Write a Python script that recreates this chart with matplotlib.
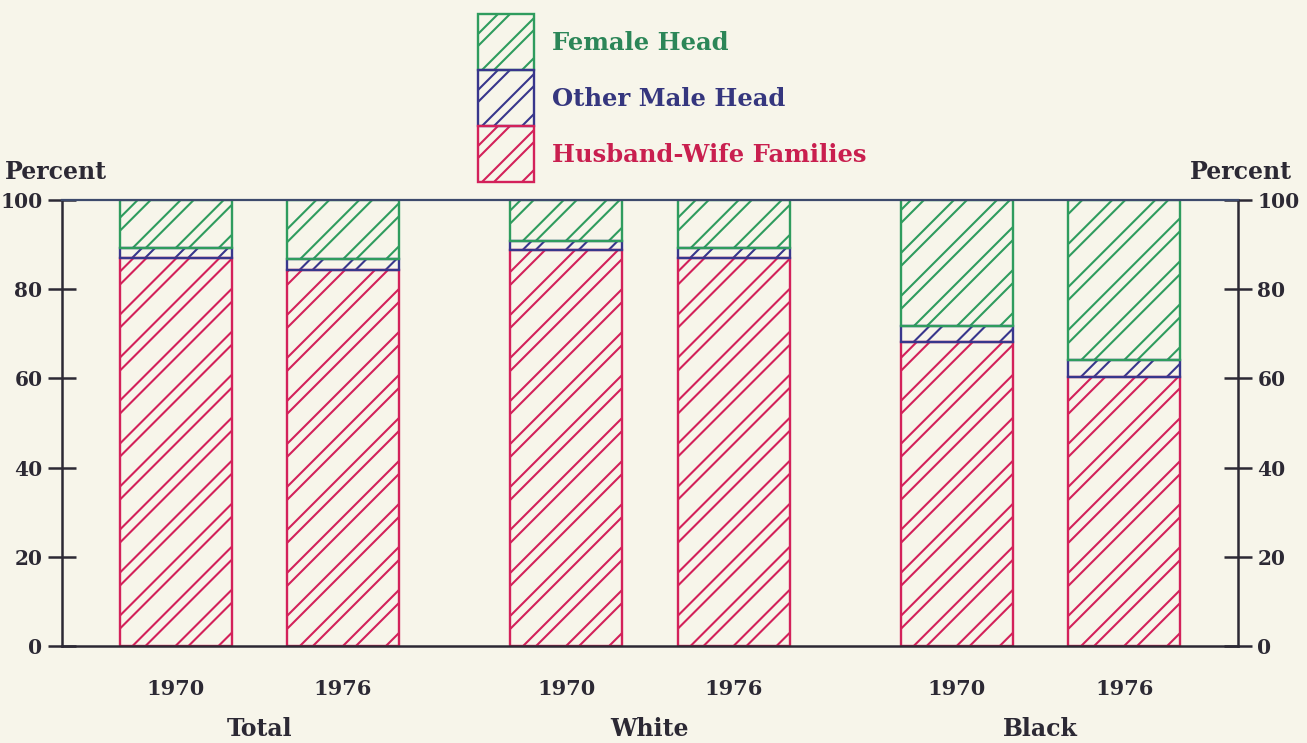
import matplotlib
matplotlib.use("Agg")
import matplotlib.pyplot as plt
from matplotlib.patches import Rectangle
from matplotlib.collections import LineCollection
from matplotlib.transforms import blended_transform_factory, IdentityTransform
import numpy as np

# Family composition by race, percent of families
groups = ["Total", "White", "Black"]
years = ["1970", "1976"]
husband_wife = [87.1, 84.4, 88.9, 87.1, 68.2, 60.4]
other_male = [2.1, 2.3, 2.0, 2.1, 3.5, 3.7]
female_head = [10.8, 13.3, 9.1, 10.8, 28.3, 35.9]
yticks = [0, 20, 40, 60, 80, 100]
series_labels = ["Female Head", "Other Male Head", "Husband-Wife Families"]

RED = "#d3215a"
NAVY = "#38368c"
GREEN = "#2f9c5e"
RED_TXT = "#c91f4f"
NAVY_TXT = "#35367e"
GREEN_TXT = "#2c8658"
BG = "#f7f5ea"
INK = "#2c2934"
TOPLINE = "#3d4a6c"

plt.rcParams["font.family"] = ["DejaVu Serif"]
plt.rcParams["font.weight"] = "bold"

W, H = 1307, 743
fig = plt.figure(figsize=(W / 100, H / 100), dpi=100, facecolor=BG)
ax = fig.add_axes([62 / W, 1 - 646 / H, (1238 - 62) / W, 446 / H])
ax.set_facecolor(BG)

# bar positions: two years per group, wider gap between groups
group_gap = 2.333
width = 0.667
pos = np.array([g * group_gap + j for g in range(len(groups)) for j in range(len(years))])
ax.set_xlim(pos[0] - 0.679, pos[-1] + 0.679)
ax.set_ylim(0, 100)

hw = np.array(husband_wife)
om = np.array(other_male)
fh = np.array(female_head)


def pen_hatch(patch, color, host, slope=1.0, period=43.0, gap=13.0, lw=1.5):
    """Pen-plotter style hatching: pairs of rising lines clipped to a patch."""
    bb = patch.get_window_extent()
    x0, y0, x1, y1 = bb.x0, bb.y0, bb.x1, bb.y1
    rise = slope * (x1 - x0)
    segs = []
    for base in np.arange(-rise - period, (y1 - y0) + period, period):
        for off in (0.0, gap):
            c = y0 + base + off
            segs.append([(x0, c), (x1, c + rise)])
    lc = LineCollection(segs, colors=color, linewidths=lw,
                        transform=IdentityTransform(), zorder=1.5)
    lc.set_capstyle("butt")
    host.add_artist(lc)
    lc.set_clip_path(patch)


stack = [(hw, np.zeros_like(hw), RED), (om, hw, NAVY), (fh, hw + om, GREEN)]
for vals, bottom, col in stack:
    bars = ax.bar(pos, vals, width, bottom=bottom, facecolor="none",
                  edgecolor=col, lw=1.7, zorder=2)
    for p in bars.patches:
        pen_hatch(p, col, ax)

for side in ["left", "right", "bottom"]:
    ax.spines[side].set_color(INK)
    ax.spines[side].set_linewidth(1.8)
ax.spines["top"].set_color(TOPLINE)
ax.spines["top"].set_linewidth(1.6)
for s in ax.spines.values():
    s.set_zorder(3)

ax.set_yticks(yticks)
ax.set_yticklabels([str(v) for v in yticks])
ax.tick_params(axis="y", direction="inout", length=20, width=1.8, color=INK,
               left=True, right=True, labelleft=True, labelright=True,
               labelsize=14.5, labelcolor=INK, pad=4)

ax.set_xticks(pos)
ax.set_xticklabels(years * len(groups))
ax.tick_params(axis="x", length=0, pad=24, labelsize=15, labelcolor=INK)

trans = blended_transform_factory(ax.transData, ax.transAxes)
for g, name in enumerate(groups):
    cx = g * group_gap + 0.5
    ax.text(cx, -0.186, name, transform=trans, ha="center", va="center",
            fontsize=17, color=INK, fontweight="bold")

fig.text(5 / W, 1 - 172 / H, "Percent", ha="left", va="center",
         fontsize=17, color=INK, fontweight="bold")
fig.text(1292 / W, 1 - 172 / H, "Percent", ha="right", va="center",
         fontsize=17, color=INK, fontweight="bold")

# Legend: stacked hatched boxes with coloured labels
key_colors = [GREEN, NAVY, RED]
text_colors = [GREEN_TXT, NAVY_TXT, RED_TXT]
box_x, box_w, box_h, box_top = 478, 56, 56, 14
for i, (lab, col, tcol) in enumerate(zip(series_labels, key_colors, text_colors)):
    top = box_top + i * box_h
    r = Rectangle((box_x / W, 1 - (top + box_h) / H), box_w / W, box_h / H,
                  transform=fig.transFigure, facecolor="none", edgecolor=col,
                  lw=1.7, zorder=3)
    fig.add_artist(r)
    pen_hatch(r, col, fig, slope=1.0, period=40.0, gap=12.0)
    fig.text(552 / W, 1 - (top + box_h / 2 + 1) / H, lab, ha="left", va="center",
             fontsize=17.5, color=tcol, fontweight="bold")

fig.savefig("out.png", dpi=100, facecolor=BG)
